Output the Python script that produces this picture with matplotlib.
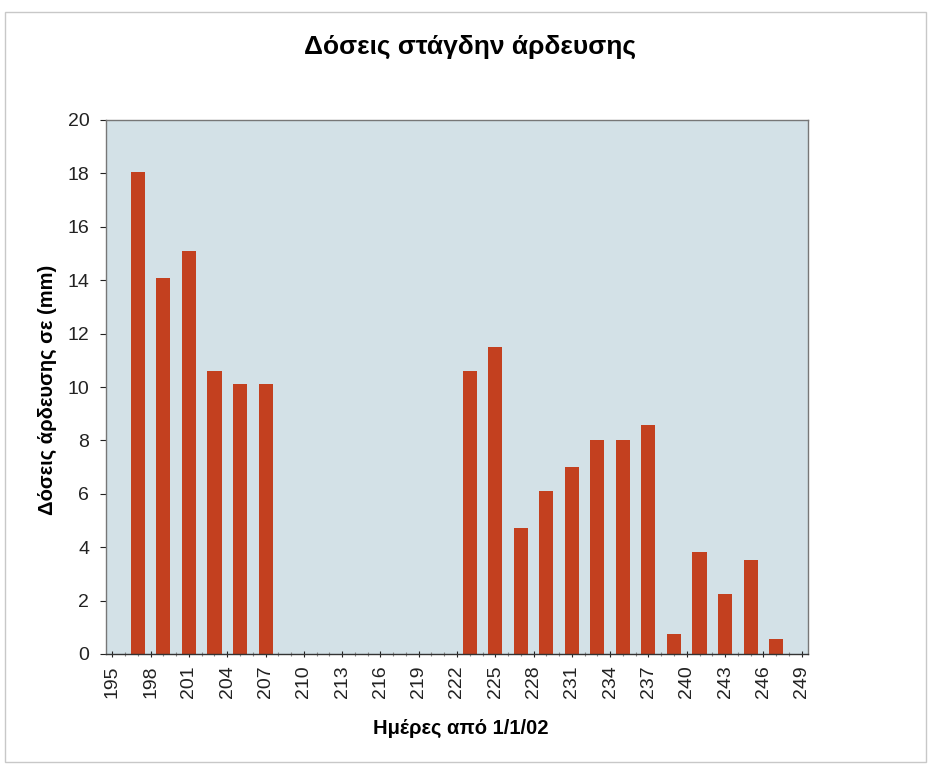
import matplotlib
matplotlib.use("Agg")
import matplotlib.pyplot as plt
from matplotlib.patches import Rectangle

# Ημέρες (από 1/1/02) και δόσεις άρδευσης (mm)
days = [197, 199, 201, 203, 205, 207,
        223, 225, 227, 229, 231, 233, 235, 237, 239, 241, 243, 245, 247]
doses = [18.05, 14.1, 15.1, 10.6, 10.1, 10.1,
         10.6, 11.5, 4.73, 6.1, 7.0, 8.0, 8.0, 8.58, 0.75, 3.83, 2.24, 3.52, 0.55]
tick_days = list(range(195, 250, 3))

plt.rcParams['font.family'] = ['Liberation Sans', 'DejaVu Sans']

fig = plt.figure(figsize=(9.31, 7.67), dpi=100)
fig.patch.set_facecolor('white')
# λεπτό περίγραμμα σαν τη σαρωμένη σελίδα
fig.patches.append(Rectangle((5/931, 5/767), 921/931, 750/767, transform=fig.transFigure,
                             fill=False, edgecolor='#c8c8c8', linewidth=1))

ax = fig.add_axes([106/931, 113/767, 702/931, 534/767])
ax.set_facecolor('#d3e1e7')
ax.bar(days, doses, width=1.1, color='#c3401f', edgecolor='none', zorder=2)

ax.set_xlim(194.5, 249.5)
ax.set_ylim(0, 20)
ax.set_yticks(range(0, 21, 2))
ax.set_xticks(tick_days)
ax.set_xticks(range(195, 250), minor=True)
ax.set_xticklabels([str(d) for d in tick_days], rotation=90)
ax.tick_params(axis='both', labelsize=14, colors='#222222', length=4, width=0.8)
ax.tick_params(axis='x', which='minor', length=3, width=0.8, direction='inout', colors='#888888')
ax.tick_params(axis='x', which='major', direction='inout', length=4, pad=6)
ax.tick_params(axis='y', pad=8)
for s in ax.spines.values():
    s.set_color('#777777')
    s.set_linewidth(1)
ax.spines['bottom'].set_color('#333333')

fig.text(470/931, 1 - 47/767, 'Δόσεις στάγδην άρδευσης', ha='center', va='center',
         fontsize=19, fontweight='bold')
fig.text(47/931, 1 - 390/767, 'Δόσεις άρδευσης σε (mm)', ha='center', va='center',
         rotation=90, fontsize=14.5, fontweight='bold')
fig.text(461/931, 1 - 728/767, 'Ημέρες από 1/1/02', ha='center', va='center',
         fontsize=14.5, fontweight='bold')

fig.savefig('out.png', dpi=100)
